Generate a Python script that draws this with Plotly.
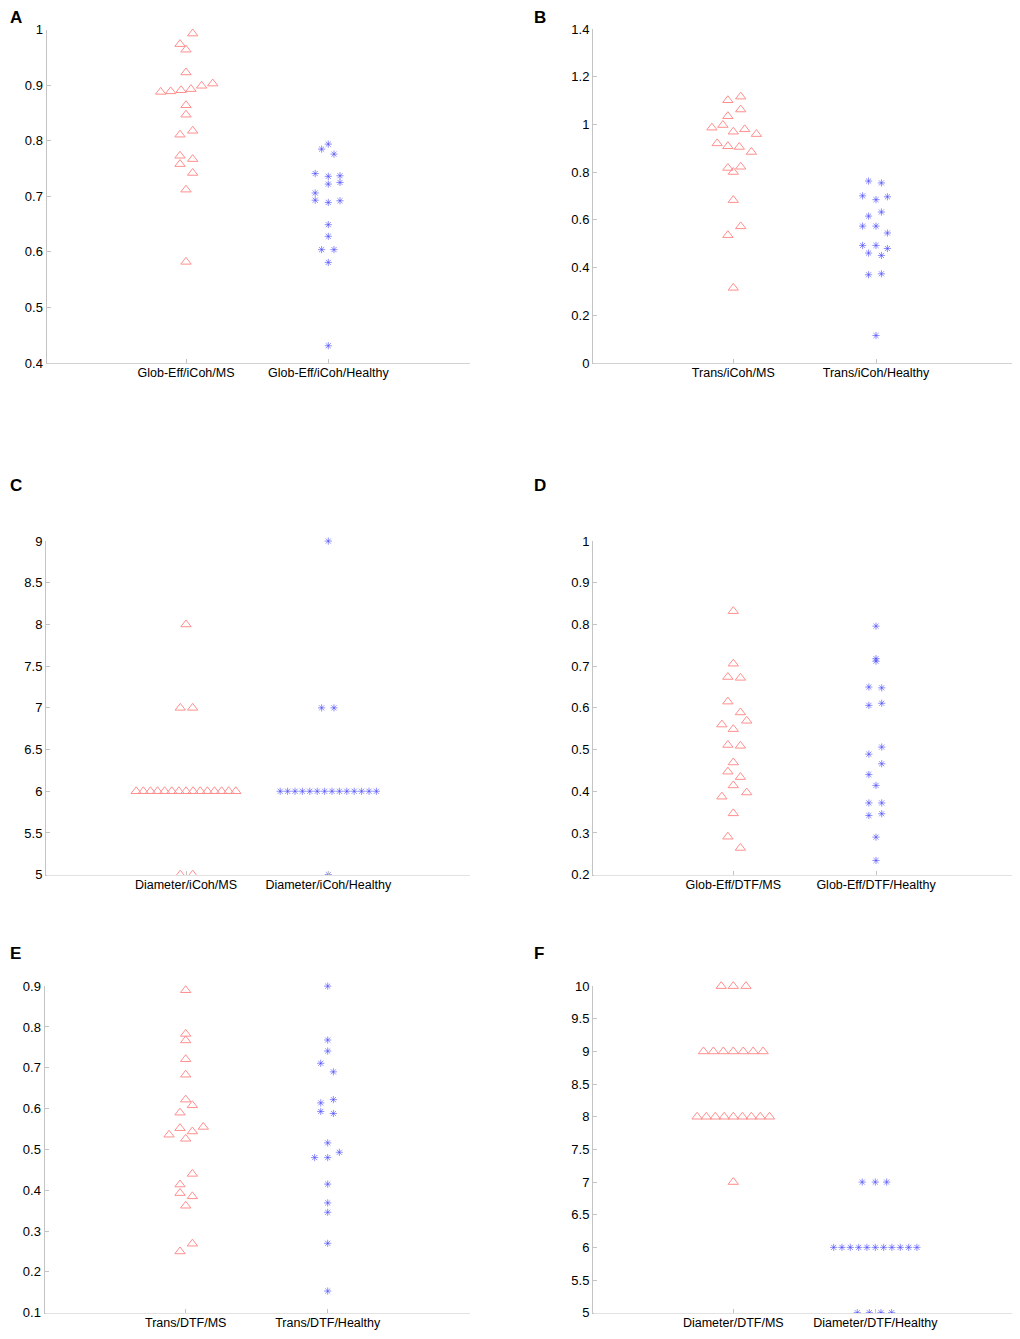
# Six beeswarm panels: graph measures (Glob-Eff, Trans, Diameter) for MS vs Healthy,
# with iCoh (A-C) and DTF (D-F) connectivity.

import plotly.graph_objects as go


# the page puts the figure at about (8, 15.5) and the shot of the page comes
# back squeezed a little in height; positions are corrected for both
PAGE_LEFT = 8
PAGE_TOP = 15.5
SHOT_SY = 0.9879
W, H = 1004, 1323

# ---- data: values and swarm offsets (x offset from category centre) ----
A_MS = [0.993, 0.974, 0.964, 0.923, 0.888, 0.889, 0.891, 0.893, 0.899, 0.903,
        0.864, 0.847, 0.811, 0.818, 0.773, 0.767, 0.758, 0.742, 0.712, 0.582]
A_MS_OFF = [0.047, -0.042, 0, 0, -0.178, -0.108, -0.035, 0.035, 0.11, 0.188,
            0, 0, -0.042, 0.047, -0.042, 0.047, -0.042, 0.047, 0, 0]
A_HC = [0.794, 0.785, 0.776, 0.741, 0.736, 0.737, 0.725, 0.722, 0.706, 0.693,
        0.689, 0.692, 0.649, 0.628, 0.604, 0.604, 0.581, 0.431]
A_HC_OFF = [0, -0.047, 0.04, -0.092, 0, 0.082, 0.082, 0, -0.092, -0.092,
            0, 0.082, 0, 0, -0.047, 0.04, 0, 0]

B_MS = [1.117, 1.102, 1.063, 1.035, 0.987, 0.998, 0.970, 0.980, 0.960, 0.921,
        0.909, 0.906, 0.885, 0.818, 0.823, 0.801, 0.683, 0.573, 0.536, 0.315]
B_MS_OFF = [0.052, -0.038, 0.052, -0.038, -0.15, -0.073, 0, 0.08, 0.162, -0.113,
            -0.038, 0.042, 0.127, -0.038, 0.052, 0, 0, 0.052, -0.038, 0]
B_HC = [0.763, 0.755, 0.701, 0.685, 0.697, 0.633, 0.616, 0.574, 0.574, 0.545,
        0.493, 0.493, 0.480, 0.461, 0.451, 0.370, 0.374, 0.115]
B_HC_OFF = [-0.052, 0.038, -0.094, 0, 0.08, 0.038, -0.052, -0.094, 0, 0.08,
            -0.094, 0, 0.08, -0.052, 0.038, -0.052, 0.038, 0]

C_MS = [8, 7, 7, 6, 6, 6, 6, 6, 6, 6, 6, 6, 6, 6, 6, 6, 6, 6, 5, 5]
C_MS_OFF = [0, -0.04, 0.047, -0.35, -0.30, -0.25, -0.20, -0.15, -0.10, -0.05, 0,
            0.05, 0.10, 0.15, 0.20, 0.25, 0.30, 0.35, -0.04, 0.047]
C_HC = [9, 7, 7, 6, 6, 6, 6, 6, 6, 6, 6, 6, 6, 6, 6, 6, 6, 5]
C_HC_OFF = [0, -0.047, 0.04, -0.338, -0.286, -0.234, -0.182, -0.130, -0.078, -0.026,
            0.026, 0.078, 0.130, 0.182, 0.234, 0.286, 0.338, 0]

D_MS = [0.832, 0.706, 0.674, 0.672, 0.615, 0.589, 0.560, 0.569, 0.549, 0.511,
        0.509, 0.469, 0.447, 0.434, 0.414, 0.397, 0.387, 0.347, 0.291, 0.264]
D_MS_OFF = [0, 0, -0.038, 0.05, -0.038, 0.05, -0.08, 0.094, 0, -0.038,
            0.05, 0, -0.038, 0.05, 0, 0.094, -0.08, 0, -0.038, 0.05]
D_HC = [0.796, 0.718, 0.712, 0.650, 0.648, 0.606, 0.611, 0.506, 0.489, 0.466,
        0.440, 0.414, 0.372, 0.372, 0.342, 0.346, 0.290, 0.234]
D_HC_OFF = [0, 0, 0, -0.05, 0.04, -0.05, 0.04, 0.04, -0.05, 0.04,
            -0.05, 0, -0.05, 0.04, -0.05, 0.04, 0, 0]

E_MS = [0.890, 0.783, 0.767, 0.721, 0.683, 0.622, 0.608, 0.590, 0.552, 0.555,
        0.544, 0.536, 0.526, 0.440, 0.414, 0.393, 0.385, 0.362, 0.269, 0.250]
E_MS_OFF = [0, 0, 0, 0, 0, 0, 0.047, -0.04, -0.04, 0.124,
            0.047, -0.117, 0, 0.047, -0.04, -0.04, 0.047, 0, 0.047, -0.04]
E_HC = [0.900, 0.768, 0.741, 0.711, 0.690, 0.622, 0.614, 0.593, 0.588, 0.516,
        0.493, 0.480, 0.480, 0.415, 0.369, 0.346, 0.270, 0.153]
E_HC_OFF = [0, 0, 0, -0.049, 0.04, 0.04, -0.049, -0.049, 0.04, 0,
            0.082, -0.092, 0, 0, 0, 0, 0, 0]

F_MS = [10, 10, 10, 9, 9, 9, 9, 9, 9, 9, 8, 8, 8, 8, 8, 8, 8, 8, 8, 7]
F_MS_OFF = [-0.085, 0, 0.089, -0.21, -0.14, -0.07, 0, 0.07, 0.14, 0.21,
            -0.255, -0.19, -0.127, -0.064, 0, 0.064, 0.127, 0.19, 0.255, 0]
F_HC = [7, 7, 7, 6, 6, 6, 6, 6, 6, 6, 6, 6, 6, 6, 5, 5, 5, 5]
F_HC_OFF = [-0.092, 0, 0.08, -0.293, -0.235, -0.176, -0.117, -0.059, 0, 0.059,
            0.117, 0.176, 0.235, 0.293, -0.127, -0.042, 0.04, 0.115]

# category tick labels
A_CATS = ['Glob-Eff/iCoh/MS', 'Glob-Eff/iCoh/Healthy']
B_CATS = ['Trans/iCoh/MS', 'Trans/iCoh/Healthy']
C_CATS = ['Diameter/iCoh/MS', 'Diameter/iCoh/Healthy']
D_CATS = ['Glob-Eff/DTF/MS', 'Glob-Eff/DTF/Healthy']
E_CATS = ['Trans/DTF/MS', 'Trans/DTF/Healthy']
F_CATS = ['Diameter/DTF/MS', 'Diameter/DTF/Healthy']

# y ticks
A_YTICKS = [0.4, 0.5, 0.6, 0.7, 0.8, 0.9, 1]
B_YTICKS = [0, 0.2, 0.4, 0.6, 0.8, 1, 1.2, 1.4]
C_YTICKS = [5, 5.5, 6, 6.5, 7, 7.5, 8, 8.5, 9]
D_YTICKS = [0.2, 0.3, 0.4, 0.5, 0.6, 0.7, 0.8, 0.9, 1]
E_YTICKS = [0.1, 0.2, 0.3, 0.4, 0.5, 0.6, 0.7, 0.8, 0.9]
F_YTICKS = [5, 5.5, 6, 6.5, 7, 7.5, 8, 8.5, 9, 9.5, 10]


MS_COLOR = '#ff8f8f'
HC_COLOR = 'rgba(70,70,255,0.6)'
AXIS_COLOR = '#c4c4c4'
FONT = 'Liberation Sans, Arial, sans-serif'


# positions below are pixels of the 1020x1339 picture
def px_x(v):
    return min(1.0, max(0.0, (v - PAGE_LEFT) / W))


def px_y(v):
    fy = v / SHOT_SY - PAGE_TOP
    return min(1.0, max(0.0, 1 - fy / H))


def add_panel(fig, idx, label, ms, ms_off, hc, hc_off, cats, yticks,
              xpx, cat_px, ypx, label_pos):
    sfx = '' if idx == 1 else str(idx)

    # axis can't go past the page edge; keep the category ticks where they are
    x0 = xpx[0]
    x1 = min(xpx[1], PAGE_LEFT + W)
    unit = cat_px[1] - cat_px[0]
    xrange = [1 - (cat_px[0] - x0) / unit, 2 + (x1 - cat_px[1]) / unit]

    fig.add_trace(go.Scatter(
        x=[1 + o for o in ms_off], y=ms, mode='markers', cliponaxis=False,
        marker=dict(symbol='triangle-up-open', size=9,
                    color=MS_COLOR, line=dict(color=MS_COLOR, width=1)),
        xaxis='x' + sfx, yaxis='y' + sfx, hoverinfo='y'))
    fig.add_trace(go.Scatter(
        x=[2 + o for o in hc_off], y=hc, mode='markers', cliponaxis=False,
        marker=dict(symbol='asterisk-open', size=6,
                    color=HC_COLOR, line=dict(color=HC_COLOR, width=1)),
        xaxis='x' + sfx, yaxis='y' + sfx, hoverinfo='y'))

    fig.layout['xaxis' + sfx] = dict(
        domain=[px_x(x0), px_x(x1)], anchor='y' + sfx,
        range=xrange, tickvals=[1, 2], ticktext=cats,
        showline=True, linecolor=AXIS_COLOR, linewidth=1,
        ticks='inside', ticklen=4, tickcolor=AXIS_COLOR,
        ticklabelstandoff=-2,
        showgrid=False, zeroline=False,
        tickfont=dict(size=12.5, color='black', family=FONT))
    fig.layout['yaxis' + sfx] = dict(
        domain=[px_y(ypx[1]), px_y(ypx[0])], anchor='x' + sfx,
        range=[yticks[0], yticks[-1]], tickvals=yticks,
        ticktext=[('%g' % t) for t in yticks],
        showline=True, linecolor=AXIS_COLOR, linewidth=1,
        ticks='inside', ticklen=4, tickcolor=AXIS_COLOR,
        showgrid=False, zeroline=False,
        tickfont=dict(size=13, color='black', family=FONT))

    # markers sitting on the x axis are cut off below it
    fig.add_shape(type='rect', xref='paper', yref='paper', layer='above',
                  x0=px_x(x0 + 1), x1=px_x(x1 + 2),
                  y0=px_y(ypx[1] + 5), y1=px_y(ypx[1] + 0.8),
                  fillcolor='white', line=dict(width=0))

    fig.add_annotation(
        x=px_x(label_pos[0]), y=px_y(label_pos[1]), xref='paper', yref='paper',
        text='<b>' + label + '</b>', showarrow=False,
        xanchor='left', yanchor='middle',
        font=dict(size=17, color='black', family=FONT))


def plot_all():
    fig = go.Figure()

    add_panel(fig, 1, 'A', A_MS, A_MS_OFF, A_HC, A_HC_OFF, A_CATS, A_YTICKS,
              (46.5, 470), (186, 328.3), (30, 363), (8, 18))
    add_panel(fig, 2, 'B', B_MS, B_MS_OFF, B_HC, B_HC_OFF, B_CATS, B_YTICKS,
              (593, 1016.7), (733.3, 876), (29.5, 363), (532, 18))
    add_panel(fig, 3, 'C', C_MS, C_MS_OFF, C_HC, C_HC_OFF, C_CATS, C_YTICKS,
              (46, 470), (186, 328.3), (541, 874.3), (8, 485.5))
    add_panel(fig, 4, 'D', D_MS, D_MS_OFF, D_HC, D_HC_OFF, D_CATS, D_YTICKS,
              (593, 1016.7), (733.3, 876), (541, 874.3), (532, 485.5))
    add_panel(fig, 5, 'E', E_MS, E_MS_OFF, E_HC, E_HC_OFF, E_CATS, E_YTICKS,
              (44.5, 470), (185.7, 327.7), (985.7, 1312), (8, 953))
    add_panel(fig, 6, 'F', F_MS, F_MS_OFF, F_HC, F_HC_OFF, F_CATS, F_YTICKS,
              (593, 1016.7), (733.3, 875.3), (985.7, 1312), (532, 953))

    fig.update_layout(
        width=W,
        height=H,
        margin=dict(l=0, r=0, t=0, b=0, pad=0),
        showlegend=False,
        plot_bgcolor='white',
        paper_bgcolor='white',
        font=dict(family=FONT, color='black'),
    )

    fig.write_html('out.html')


if __name__ == '__main__':
    plot_all()
